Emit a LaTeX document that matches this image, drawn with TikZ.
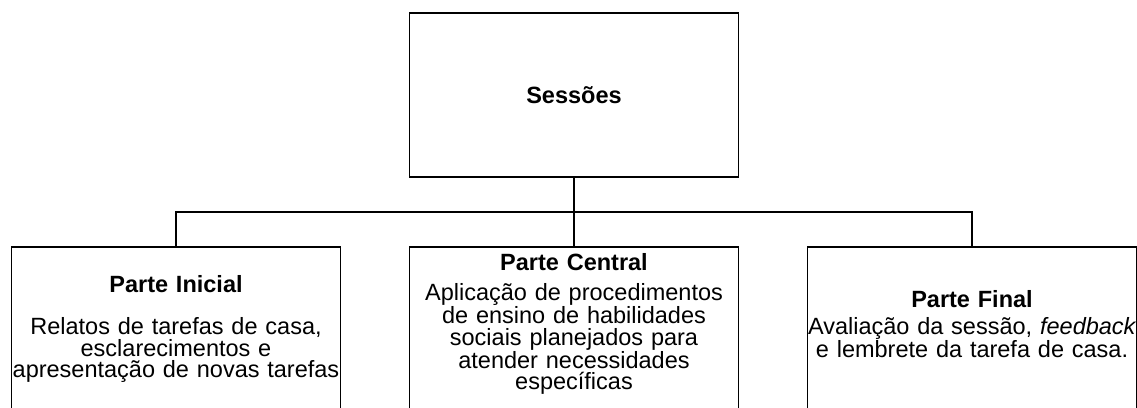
\documentclass[tikz,border=0pt]{standalone}
\usepackage{fontspec}
\setmainfont{Liberation Sans}
\usetikzlibrary{trees}

\begin{document}
\begin{tikzpicture}[x=1pt, y=-1pt, line width=1.8pt,
	caixa/.style={rectangle, draw, minimum width=329pt, minimum height=164pt, inner sep=0pt, text width=328pt, align=center, font=\fontsize{23.5}{21.5}\selectfont}]
	\useasboundingbox (0,0) rectangle (1137,407);
	\node[caixa](sessoes) at (574,95) {\textbf{Sessões}} [grow=down, level distance=234pt, sibling distance=398pt, edge from parent fork down]
		child {node[caixa](inicial) {\textbf{Parte Inicial}\\[21pt] Relatos de tarefas de casa,\\ esclarecimentos e\\ apresentação de novas tarefas}}
		child {node[caixa](central) {\textbf{Parte Central}\\[9pt] Aplicação de procedimentos\\ de ensino de habilidades\\ sociais planejados para\\ atender necessidades\\ específicas\rule[-15pt]{0pt}{0pt}}}
		child {node[caixa](final) {\textbf{Parte Final}\\[6pt] \mbox{Avaliação da sessão, \textit{feedback}}\\ e lembrete da tarefa de casa.\rule[-10pt]{0pt}{0pt}}};
\end{tikzpicture}
\end{document}
